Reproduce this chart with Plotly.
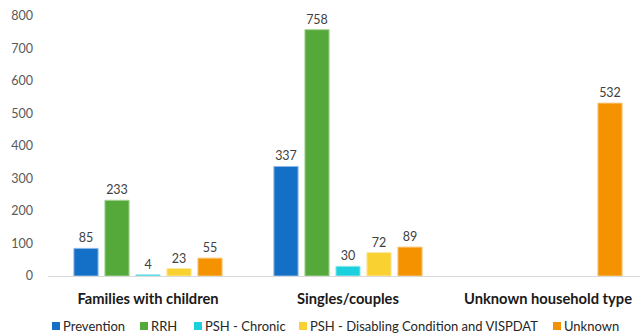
import plotly.graph_objects as go

categories = ["Families with children", "Singles/couples", "Unknown household type"]
series_names = ["Prevention", "RRH", "PSH - Chronic",
                "PSH - Disabling Condition and VISPDAT", "Unknown"]
prevention = [85, 337, None]
rrh = [233, 758, None]
psh_chronic = [4, 30, None]
psh_disabling = [23, 72, None]
unknown = [55, 89, 532]

series_values = [prevention, rrh, psh_chronic, psh_disabling, unknown]
colors = ["#1370C6", "#55A93B", "#1AD0DC", "#F9D130", "#F49200"]
edges = ["#8FB8E6", "#A6D598", "#9BE8EE", "#FCE89A", "#F9C880"]

FONT = "Lato, 'Open Sans', sans-serif"

# plot area geometry in pixels (used for the hand-placed legend row)
W, H = 640, 333
ML, MR, MT, MB = 48, 0, 16, 57
PW, PH = W - ML - MR, H - MT - MB

fig = go.Figure()
for name, vals, col, edge in zip(series_names, series_values, colors, edges):
    fig.add_trace(go.Bar(
        name=name,
        x=categories,
        y=vals,
        marker=dict(color=col, line=dict(color=edge, width=1)),
        text=[("" if v is None else str(v)) for v in vals],
        textposition="outside",
        textfont=dict(family=FONT, size=12.5, color="#404040"),
        cliponaxis=False,
        showlegend=False,
    ))

# single-row legend along the bottom: coloured square + label
legend_x = [52, 140, 194, 299, 553]
legend_y = 326
for name, col, px in zip(series_names, colors, legend_x):
    fx = (px - ML) / PW
    fy = (H - MB - legend_y) / PH
    fig.add_shape(
        type="rect", xref="paper", yref="paper",
        xsizemode="pixel", ysizemode="pixel",
        xanchor=fx, yanchor=fy,
        x0=0, x1=8, y0=-4, y1=4,
        fillcolor=col, line=dict(width=0),
    )
    fig.add_annotation(
        xref="paper", yref="paper", x=fx, y=fy,
        xshift=9, xanchor="left", yanchor="middle",
        text=name, showarrow=False,
        font=dict(family=FONT, size=13, color="#262626"),
    )

fig.update_layout(
    width=W, height=H,
    margin=dict(l=ML, r=MR, t=MT, b=MB),
    paper_bgcolor="white", plot_bgcolor="white",
    barmode="group", bargap=0.225, bargroupgap=0.22,
    font=dict(family=FONT, color="#595959"),
    showlegend=False,
)
fig.update_xaxes(
    range=[-0.5, 2.46],
    showline=True, linecolor="#D9D9D9", linewidth=1,
    showgrid=False, ticks="",
    tickfont=dict(family=FONT, size=14.7, color="#1a1a1a", weight="bold"),
    ticklabelstandoff=9,
)
fig.update_yaxes(
    range=[0, 800], dtick=100, showgrid=False, zeroline=False,
    showline=False, ticks="",
    tickfont=dict(family=FONT, size=12.5, color="#595959"),
    ticklabelstandoff=14,
)

fig.write_html("out.html")
